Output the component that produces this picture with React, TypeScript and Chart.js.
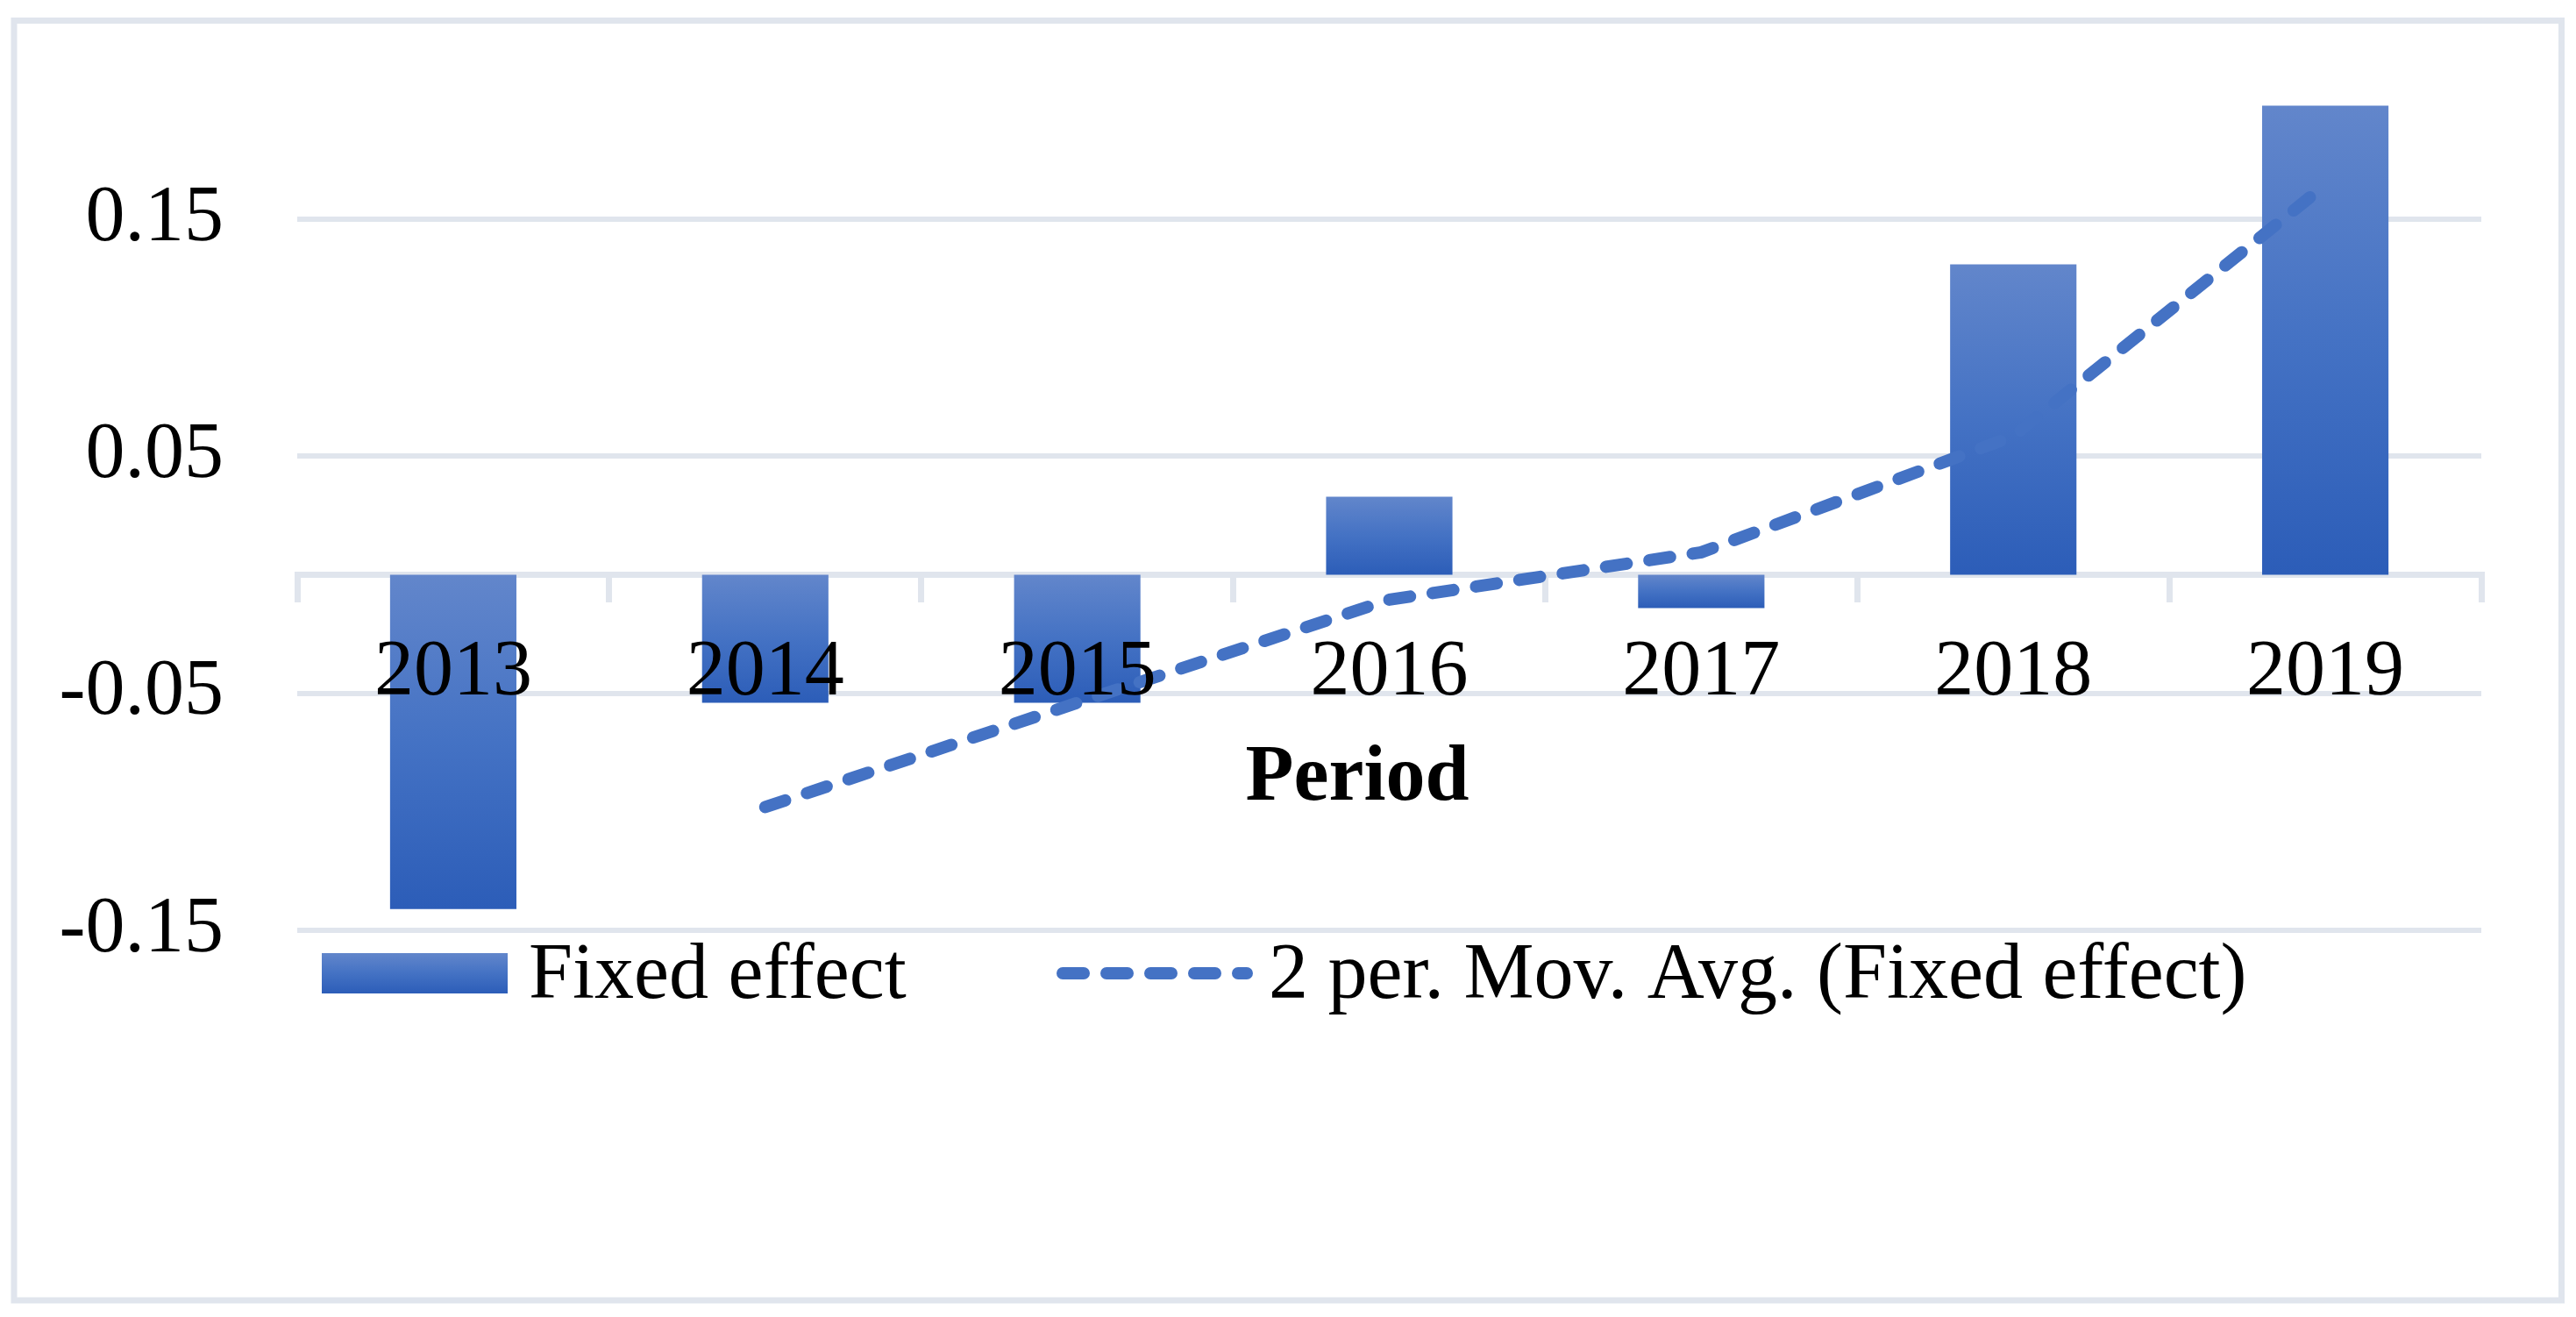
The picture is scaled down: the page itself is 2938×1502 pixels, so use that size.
import React, { useEffect, useRef } from "react";
import { Chart, registerables } from "chart.js";

Chart.register(...registerables);

// ---- data ----
const categories = ["2013", "2014", "2015", "2016", "2017", "2018", "2019"];
const fixedEffect = [-0.141, -0.054, -0.054, 0.033, -0.014, 0.131, 0.198];
const movingAvg = [null, -0.098, -0.054, -0.0105, 0.0095, 0.0585, 0.1645];
const yTickValues = [-0.15, -0.05, 0.05, 0.15];
const yTickLabels = ["-0.15", "-0.05", "0.05", "0.15"];
const barLabel = "Fixed effect";
const lineLabel = "2 per. Mov. Avg. (Fixed effect)";
const axisTitle = "Period";

// ---- styles ----
const FONT = '"Liberation Serif", "Times New Roman", Times, serif';
const GRID = "#E0E5ED";
const LINE = "#4472C4";

function makeGradient(c: CanvasRenderingContext2D, top: number, bottom: number) {
  const g = c.createLinearGradient(0, top, 0, bottom);
  g.addColorStop(0, "#6286CB");
  g.addColorStop(0.5, "#4472C4");
  g.addColorStop(1, "#2C5DB8");
  return g;
}

const decor = {
  id: "decor",
  beforeDraw(chart: any) {
    const c = chart.ctx as CanvasRenderingContext2D;
    c.save();
    c.fillStyle = "#ffffff";
    c.fillRect(0, 0, chart.width, chart.height);
    c.strokeStyle = GRID;
    c.lineWidth = 7;
    c.strokeRect(16, 23.5, 2905.5, 1459.5);
    c.restore();
  },
  afterDraw(chart: any) {
    const c = chart.ctx as CanvasRenderingContext2D;
    c.save();
    // axis title
    c.fillStyle = "#000";
    c.font = `bold 90px ${FONT}`;
    c.textAlign = "center";
    c.textBaseline = "alphabetic";
    c.fillText(axisTitle, 1548, 912);

    // legend
    c.font = `90px ${FONT}`;
    c.textAlign = "left";
    c.fillStyle = makeGradient(c, 1087, 1133);
    c.fillRect(367, 1087, 212, 46);
    c.fillStyle = "#000";
    c.fillText(barLabel, 603, 1138);

    c.strokeStyle = LINE;
    c.lineWidth = 14;
    c.lineCap = "round";
    c.setLineDash([24, 26]);
    c.beginPath();
    c.moveTo(1212, 1110);
    c.lineTo(1422, 1110);
    c.stroke();
    c.setLineDash([]);
    c.fillStyle = "#000";
    c.fillText(lineLabel, 1447, 1138);
    c.restore();
  },
};

export default function App() {
  const ref = useRef<HTMLCanvasElement | null>(null);

  useEffect(() => {
    if (!ref.current) return;
    Chart.defaults.font.family = FONT;
    const chart = new Chart(ref.current, {
      type: "bar",
      data: {
        labels: categories,
        datasets: [
          {
            type: "line",
            label: lineLabel,
            data: movingAvg,
            borderColor: LINE,
            backgroundColor: LINE,
            borderWidth: 14,
            borderDash: [24, 26],
            borderCapStyle: "round",
            pointRadius: 0,
            pointHoverRadius: 0,
            tension: 0,
            fill: false,
            order: 0,
          } as any,
          {
            type: "bar",
            label: barLabel,
            data: fixedEffect,
            order: 1,
            categoryPercentage: 1,
            barPercentage: 0.405,
            borderWidth: 0,
            backgroundColor: (ctx: any) => {
              const chart = ctx.chart;
              const ys = chart.scales && chart.scales.y;
              if (!ys || ctx.raw == null || ctx.type !== "data") return LINE;
              const a = ys.getPixelForValue(ctx.raw);
              const b = ys.getPixelForValue(0);
              const top = Math.min(a, b);
              const bottom = Math.max(a, b);
              if (!(bottom > top)) return LINE;
              return makeGradient(chart.ctx, top, bottom);
            },
          } as any,
        ],
      },
      options: {
        animation: false,
        responsive: true,
        maintainAspectRatio: false,
        devicePixelRatio: 1,
        layout: { padding: { top: 115, right: 108, bottom: 441, left: 0 } },
        plugins: {
          legend: { display: false },
          tooltip: { enabled: false },
          title: { display: false },
        },
        scales: {
          x: {
            position: { y: 0 } as any,
            offset: true,
            grid: {
              offset: true,
              drawOnChartArea: false,
              drawTicks: true,
              tickLength: 28,
              color: GRID,
              lineWidth: 7,
            },
            border: { display: true, color: GRID, width: 7 },
            ticks: {
              color: "#000",
              font: { size: 90, family: FONT },
              padding: 31,
              maxRotation: 0,
              autoSkip: false,
              z: 1,
            },
          },
          y: {
            min: -0.15,
            max: 0.2,
            afterBuildTicks: (scale: any) => {
              scale.ticks = yTickValues.map((v) => ({ value: v }));
            },
            afterFit: (scale: any) => {
              scale.width = 339;
              scale.paddingTop = 0;
              scale.paddingBottom = 0;
            },
            grid: { color: GRID, lineWidth: 6, drawTicks: false },
            border: { display: false },
            ticks: {
              color: "#000",
              font: { size: 90, family: FONT },
              padding: 84,
              callback: (_v: any, i: number) => yTickLabels[i],
            },
          },
        },
      },
      plugins: [decor],
    });
    return () => chart.destroy();
  }, []);

  return (
    <div style={{ position: "fixed", left: 0, top: 0, width: "2938px", height: "1502px", background: "#fff" }}>
      <canvas ref={ref} />
    </div>
  );
}
